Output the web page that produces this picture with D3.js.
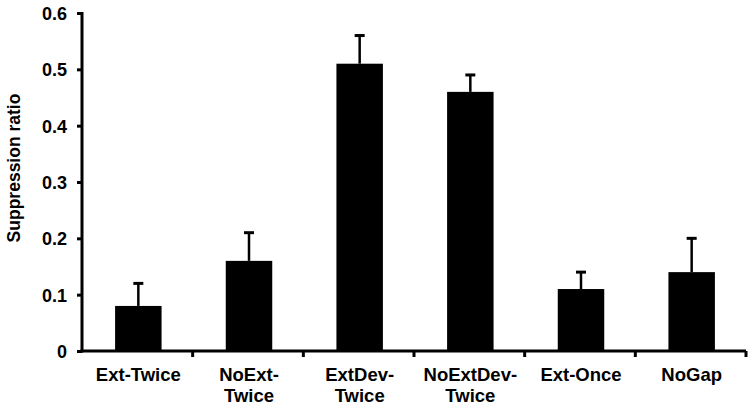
<!DOCTYPE html>
<html>
<head>
<meta charset="utf-8">
<script src="https://cdn.jsdelivr.net/npm/d3@7"></script>
<style>
  body { margin: 0; background: #fff; }
  svg text { font-family: "Liberation Sans", Arial, sans-serif; font-weight: bold; fill: #000; }
</style>
</head>
<body>
<svg id="chart"></svg>
<script>
// data
const groups = [["Ext-Twice"], ["NoExt-", "Twice"], ["ExtDev-", "Twice"], ["NoExtDev-", "Twice"], ["Ext-Once"], ["NoGap"]];
const means = [0.08, 0.16, 0.51, 0.46, 0.11, 0.14];
const errs = [0.04, 0.05, 0.05, 0.03, 0.03, 0.06];
const yTicks = [0, 0.1, 0.2, 0.3, 0.4, 0.5, 0.6];

let width = 750, height = 408;
let margin = { top: 13, right: 4, bottom: 57, left: 82 };

const svg = d3.select("#chart").attr("width", width).attr("height", height);

const idx = d3.range(groups.length);
const x = d3.scaleBand().domain(idx).range([margin.left, width - margin.right]);
const y = d3.scaleLinear().domain([0, 0.6]).range([height - margin.bottom, margin.top]);

const barW = x.bandwidth() * 0.42;

// bars
svg.append("g").selectAll("rect")
    .data(idx)
    .join("rect")
    .attr("x", i => x(i) + x.bandwidth() / 2 - barW / 2 + 1)
    .attr("width", barW)
    .attr("y", i => y(means[i]))
    .attr("height", i => y(0) - y(means[i]))
    .attr("fill", "#000");

// error bars (upper only)
const eb = svg.append("g").attr("stroke", "#000").attr("stroke-width", 2.5);
idx.forEach(i => {
    const cx = x(i) + x.bandwidth() / 2 + 1;
    eb.append("line").attr("x1", cx).attr("x2", cx)
        .attr("y1", y(means[i])).attr("y2", y(means[i] + errs[i]));
    eb.append("line").attr("x1", cx - 5).attr("x2", cx + 5)
        .attr("y1", y(means[i] + errs[i])).attr("y2", y(means[i] + errs[i]))
        .attr("stroke-width", 3);
});

// y axis
const yAxis = svg.append("g")
    .attr("transform", `translate(${margin.left},0)`)
    .call(d3.axisLeft(y).tickValues(yTicks).tickFormat(d => d === 0 ? "0" : d3.format(".1f")(d)).tickSize(5).tickSizeOuter(0).tickPadding(10));
yAxis.select(".domain").attr("stroke-width", 3).attr("d", `M0,${y(0.6) - 1}V${y(0) + 1.5}`);
yAxis.selectAll(".tick line").attr("stroke-width", 3);
yAxis.selectAll(".tick text").attr("font-size", "18px").attr("dy", "0.36em");

// x axis
const xAxis = svg.append("g")
    .attr("transform", `translate(0,${y(0)})`);
xAxis.append("path")
    .attr("d", `M${margin.left - 1.5},0H${width - margin.right}`)
    .attr("stroke", "#000").attr("stroke-width", 3);
xAxis.selectAll(".xt")
    .data(idx)
    .join("line")
    .attr("x1", i => x(i) + x.bandwidth()).attr("x2", i => x(i) + x.bandwidth())
    .attr("y1", 0).attr("y2", 6)
    .attr("stroke", "#000").attr("stroke-width", 3);

const lbl = xAxis.selectAll(".xl")
    .data(idx)
    .join("text")
    .attr("text-anchor", "middle")
    .attr("font-size", "18.5px")
    .attr("transform", i => `translate(${x(i) + x.bandwidth() / 2 + 1},30)`);
lbl.selectAll("tspan")
    .data(i => groups[i])
    .join("tspan")
    .attr("x", 0)
    .attr("dy", (d, j) => j === 0 ? 0 : 21)
    .text(d => d);

// y label
svg.append("text")
    .attr("transform", `translate(19.5,168) rotate(-90)`)
    .attr("text-anchor", "middle")
    .attr("font-size", "17.5px")
    .text("Suppression ratio");
</script>
</body>
</html>
